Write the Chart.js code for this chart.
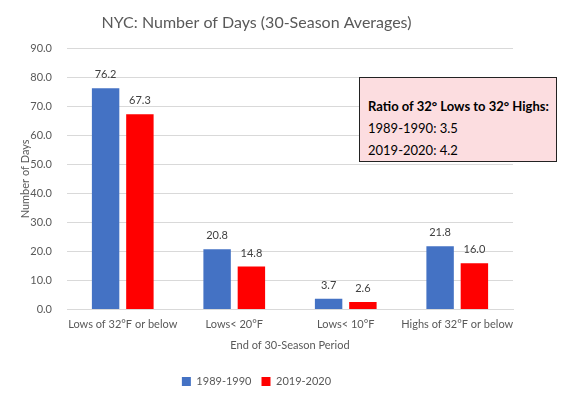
<!DOCTYPE html>
<html><head><meta charset="utf-8">
<script src="https://cdn.jsdelivr.net/npm/chart.js@4.4.1/dist/chart.umd.min.js"></script>
<style>
html,body{margin:0;padding:0;background:#fff;}
#wrap{position:relative;width:571px;height:397px;}
#note{position:absolute;left:359px;top:77px;width:198px;height:85px;background:#fcdde0;border:1px solid #222;box-sizing:border-box;font-family:Lato,"Open Sans",sans-serif;font-size:13px;color:#000;padding:17px 0 0 8px;line-height:22px;}
#note b{font-weight:700;}
</style></head><body>
<div id="wrap">
<canvas id="c" width="571" height="397"></canvas>
<div id="note"><b>Ratio of 32° Lows to 32° Highs:</b><br>1989-1990: 3.5<br>2019-2020: 4.2</div>
</div>
<script>
const categories = ["Lows of 32°F or below", "Lows< 20°F", "Lows< 10°F", "Highs of 32°F or below"];
const series1990 = [76.2, 20.8, 3.7, 21.8];
const series2020 = [67.3, 14.8, 2.6, 16.0];
const seriesNames = ["1989-1990", "2019-2020"];
const yTicks = [0, 10, 20, 30, 40, 50, 60, 70, 80, 90];

const FONT = "Lato, 'Open Sans', sans-serif";
const GREY = "#595959";

const labelPlugin = {
  id: 'vals',
  afterDatasetsDraw(chart) {
    const ctx = chart.ctx;
    ctx.save();
    ctx.font = "11px " + FONT;
    ctx.fillStyle = "#404040";
    ctx.textAlign = "center";
    ctx.textBaseline = "bottom";
    chart.data.datasets.forEach((ds, i) => {
      chart.getDatasetMeta(i).data.forEach((bar, j) => {
        ctx.fillText(ds.data[j].toFixed(1), bar.x, bar.y - 8);
      });
    });
    ctx.restore();
  }
};

new Chart(document.getElementById('c'), {
  type: 'bar',
  data: {
    labels: categories,
    datasets: [
      {label: seriesNames[0], data: series1990, backgroundColor: "#4472c4"},
      {label: seriesNames[1], data: series2020, backgroundColor: "#ff0000"}
    ]
  },
  options: {
    responsive: false,
    animation: false,
    devicePixelRatio: 1,
    layout: {padding: {left: 0, right: 58, top: 0, bottom: 0}},
    categoryPercentage: 0.615,
    barPercentage: 0.8,
    plugins: {
      title: {display: true, text: "NYC: Number of Days (30-Season Averages)", color: GREY,
        font: {family: FONT, size: 16, weight: 'normal'}, padding: {top: 13, bottom: 16}},
      legend: {position: 'bottom', labels: {color: GREY, font: {family: FONT, size: 11},
        boxWidth: 9, boxHeight: 9, padding: 10}},
      tooltip: {enabled: false}
    },
    scales: {
      y: {
        min: 0, max: 90,
        afterBuildTicks(axis) { axis.ticks = yTicks.map(v => ({value: v})); },
        afterFit(axis) { axis.width = 67; },
        ticks: {color: GREY, font: {family: FONT, size: 11}, padding: 15,
          callback: v => Number(v).toFixed(1)},
        grid: {color: "#d9d9d9", drawTicks: false},
        border: {display: false},
        title: {display: true, text: "Number of Days", color: GREY, font: {family: FONT, size: 11}, padding: {top: 19, bottom: 0}}
      },
      x: {
        ticks: {color: GREY, font: {family: FONT, size: 11}, padding: 8, maxRotation: 0, autoSkip: false},
        grid: {display: false, drawTicks: false},
        border: {color: "#d9d9d9"},
        title: {display: true, text: "End of 30-Season Period", color: GREY, font: {family: FONT, size: 11}, padding: {top: 0, bottom: 14}}
      }
    }
  },
  plugins: [labelPlugin]
});
</script>
</body></html>
